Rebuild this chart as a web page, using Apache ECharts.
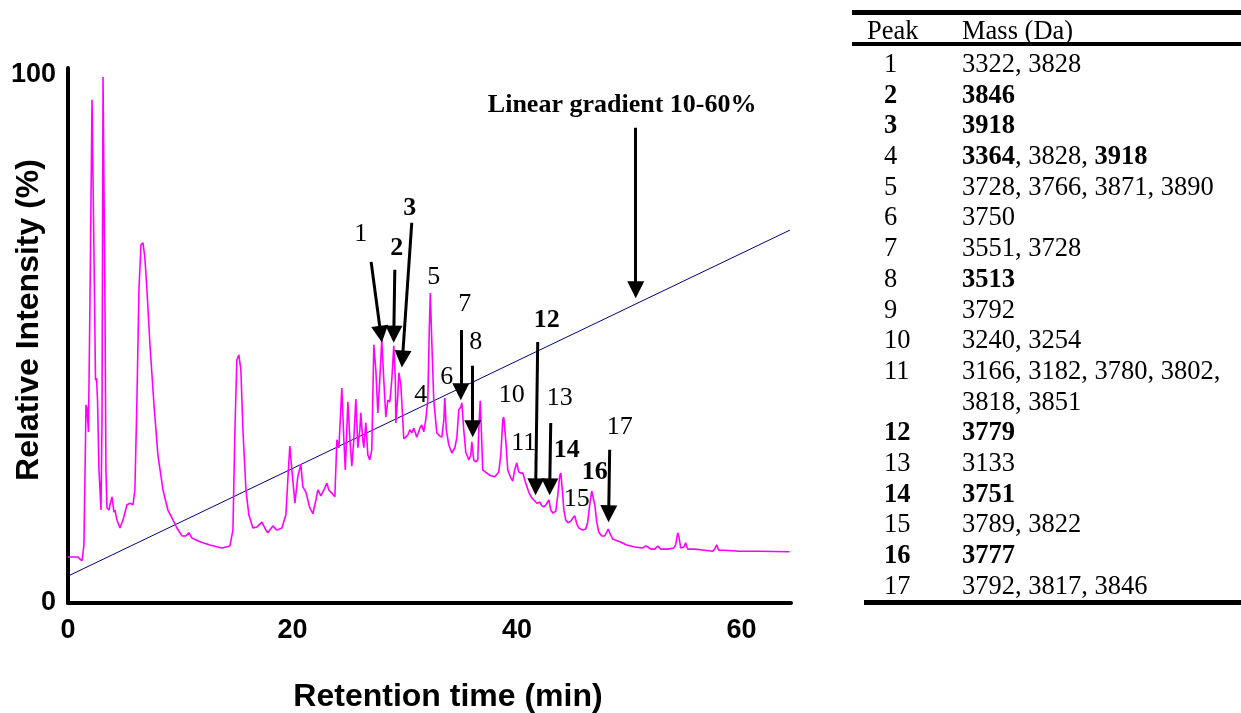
<!DOCTYPE html>
<html>
<head>
<meta charset="utf-8">
<script src="https://cdn.jsdelivr.net/npm/echarts@6/dist/echarts.min.js"></script>
<style>
html, body { margin: 0; padding: 0; background: #fff; }
#chart { width: 1241px; height: 713px; }
</style>
</head>
<body>
<div id="chart"></div>
<script>
// chromatogram trace (min, % relative intensity)
const retentionTime = [
  0.00, 0.89, 1.07, 1.25, 1.42, 1.56, 1.60, 1.69, 1.82, 1.96, 2.14, 2.23, 2.31, 2.45, 2.54, 2.63, 2.76, 2.94,
  3.03, 3.12, 3.21, 3.29, 3.38, 3.47, 3.65, 3.74, 3.92, 4.01, 4.10, 4.18, 4.36, 4.63, 4.90, 5.25, 5.52, 5.79,
  5.96, 6.14, 6.32, 6.50, 6.68, 6.85, 7.03, 7.30, 7.66, 8.01, 8.46, 8.90, 9.26, 9.70, 10.15, 10.50, 10.77, 11.04,
  11.75, 12.64, 13.71, 14.42, 14.69, 14.87, 15.04, 15.22, 15.40, 15.58, 15.85, 16.11, 16.47, 16.83, 17.27, 17.63,
  17.80, 18.25, 18.60, 19.05, 19.41, 19.58, 19.76, 19.94, 20.21, 20.47, 20.74, 20.92, 21.19, 21.54, 21.81, 22.08,
  22.26, 22.52, 22.79, 23.06, 23.23, 23.50, 23.77, 23.95, 24.13, 24.39, 24.57, 24.70, 24.93, 25.11, 25.28, 25.46,
  25.64, 25.82, 26.00, 26.08, 26.26, 26.35, 26.53, 26.71, 26.88, 27.06, 27.24, 27.42, 27.60, 27.77, 27.95, 28.13,
  28.31, 28.49, 28.67, 28.84, 29.02, 29.16, 29.20, 29.38, 29.47, 29.65, 29.73, 29.91, 30.09, 30.27, 30.45, 30.62,
  30.80, 31.07, 31.34, 31.51, 31.69, 31.87, 32.05, 32.18, 32.27, 32.40, 32.58, 32.85, 33.12, 33.30, 33.48, 33.56,
  33.70, 33.92, 34.19, 34.46, 34.64, 34.81, 34.99, 35.08, 35.25, 35.43, 35.70, 35.88, 35.97, 36.14, 36.32, 36.50,
  36.59, 36.72, 36.85, 36.94, 37.30, 37.65, 38.01, 38.37, 38.55, 38.73, 38.81, 38.99, 39.17, 39.44, 39.61, 39.79,
  39.97, 40.15, 40.33, 40.51, 40.77, 41.04, 41.31, 41.58, 41.76, 42.03, 42.21, 42.39, 42.57, 42.83, 43.01, 43.19,
  43.45, 43.63, 43.81, 43.90, 44.03, 44.17, 44.34, 44.52, 44.79, 44.97, 45.14, 45.32, 45.50, 45.86, 46.12, 46.29,
  46.47, 46.65, 46.78, 46.92, 47.10, 47.28, 47.54, 47.81, 47.99, 48.12, 48.25, 48.52, 49.14, 49.77, 50.48, 51.19,
  51.46, 51.64, 51.91, 52.26, 52.53, 52.80, 53.42, 53.95, 54.13, 54.31, 54.44, 54.58, 54.84, 55.02, 55.19, 55.82,
  56.71, 57.42, 57.60, 57.78, 57.96, 58.49, 59.82, 61.60, 64.27
];
const intensity = [
  8.7, 8.7, 8.3, 8.0, 11.0, 30.9, 37.5, 36.9, 32.4, 57.4, 95.3, 95.3, 66.9, 42.2, 42.6, 38.4, 25.2, 17.6,
  34.7, 99.6, 99.6, 57.4, 25.2, 18.0, 17.6, 18.6, 20.1, 18.6, 17.2, 17.6, 15.7, 14.2, 15.7, 18.6, 18.9, 18.6,
  21.4, 38.4, 59.3, 67.8, 68.2, 65.3, 59.3, 48.9, 37.5, 28.0, 21.4, 17.6, 16.1, 14.2, 12.7, 12.7, 13.3, 12.3,
  11.6, 11.0, 10.4, 10.8, 13.8, 32.8, 46.0, 47.0, 44.1, 32.8, 21.4, 16.7, 14.2, 14.4, 15.3, 13.8,
  13.3, 14.6, 13.8, 14.2, 16.7, 23.3, 29.7, 25.2, 18.9, 23.9, 26.3, 22.0, 21.0, 18.0, 16.9, 19.5,
  21.4, 20.3, 21.4, 22.7, 21.4, 20.8, 20.1, 30.9, 29.4, 40.7, 30.9, 25.2, 38.1, 30.9, 25.9, 30.9,
  38.6, 29.4, 32.8, 36.0, 30.9, 29.4, 34.1, 28.0, 27.1, 29.0, 48.9, 44.1, 36.0, 42.2, 49.8, 42.2,
  35.2, 38.4, 38.1, 42.2, 48.7, 42.2, 34.1, 39.4, 43.6, 41.3, 38.1, 31.1, 31.4, 31.8, 32.8, 32.2,
  33.1, 31.4, 33.1, 33.7, 32.4, 34.7, 38.4, 51.7, 58.7, 49.8, 38.4, 32.2, 31.6, 31.4, 34.7, 38.8,
  32.8, 29.9, 28.4, 29.4, 31.4, 36.6, 37.1, 37.9, 32.8, 28.6, 27.1, 28.0, 30.5, 27.1, 26.7, 27.1,
  32.8, 38.3, 30.9, 25.2, 24.6, 24.1, 23.9, 24.8, 28.0, 34.7, 35.2, 30.9, 25.2, 23.7, 23.1, 25.2,
  26.5, 24.8, 24.6, 24.6, 22.7, 21.0, 19.9, 19.3, 18.9, 19.1, 18.4, 18.2, 18.6, 19.5, 17.6, 17.0,
  17.4, 20.5, 24.2, 24.6, 21.4, 17.6, 15.7, 15.2, 15.5, 16.1, 16.5, 15.0, 14.2, 13.8, 14.0, 15.3,
  18.6, 21.2, 21.4, 18.6, 15.3, 13.4, 12.7, 12.7, 13.4, 14.0, 13.3, 12.1, 11.6, 11.0, 10.6, 10.4,
  10.8, 10.6, 10.2, 10.2, 10.8, 10.2, 10.2, 10.4, 11.0, 13.3, 12.3, 10.4, 10.6, 11.4, 10.2, 10.2,
  10.0, 9.8, 10.2, 11.0, 10.0, 10.0, 9.8, 9.8, 9.7
];

// acetonitrile gradient line (drawn on the same % scale)
const gradientTime = [0, 64.3];
const gradientLevel = [5.1, 70.6];

// axis ticks
const xTickStep = 20;
const yTickStep = 100;

// peak numbers written on the trace
const peakLabels = ['1', '2', '3', '4', '5', '6', '7', '8', '10', '11', '12', '13', '14', '15', '16', '17'];
const peakLabelBold = [false, true, true, false, false, false, false, false, false, false, true, false, true, false, true, false];
const peakLabelAt = [
  [26.08, 69.9], [29.29, 67.2], [30.45, 74.8], [31.43, 39.4], [32.58, 61.7], [33.74, 42.8], [35.34, 56.6], [36.32, 49.4],
  [39.53, 39.4], [40.59, 30.3], [42.64, 53.6], [43.8, 38.8], [44.42, 29.0], [45.31, 19.7], [46.92, 24.8], [49.14, 33.3]
];

// arrows (tail -> head)
const arrowFrom = [[27.0, 64.6], [29.11, 63.1], [30.62, 72.0], [34.99, 51.7], [36.05, 44.9], [41.84, 49.4], [43.0, 34.1], [48.25, 29.0], [50.57, 90.0]];
const arrowTo = [[27.86, 50.9], [29.02, 50.9], [29.79, 46.2], [34.99, 40.0], [36.05, 33.0], [41.66, 22.0], [42.91, 22.0], [48.16, 16.9], [50.57, 59.3]];

const gradientNote = 'Linear gradient 10-60%';
const gradientNoteAt = [49.36, 94.3];

// table of masses ('*' = bold)
const tablePeak = ['1', '2', '3', '4', '5', '6', '7', '8', '9', '10', '11', '', '12', '13', '14', '15', '16', '17'];
const tablePeakBold = [false, true, true, false, false, false, false, false, false, false, false, false, true, false, true, false, true, false];
const tableMass = [
  ['3322', '3828'], ['*3846'], ['*3918'], ['*3364', '3828', '*3918'], ['3728', '3766', '3871', '3890'], ['3750'],
  ['3551', '3728'], ['*3513'], ['3792'], ['3240', '3254'], ['3166', '3182', '3780', '3802', ''], ['3818', '3851'],
  ['*3779'], ['3133'], ['*3751'], ['3789', '3822'], ['*3777'], ['3792', '3817', '3846']
];

const SERIF = '"Liberation Serif", "Times New Roman", serif';
const SANS = '"Liberation Sans", Arial, sans-serif';
const TABLE_FS = 26.5;

const chart = echarts.init(document.getElementById('chart'));

const trace = retentionTime.map((t, i) => [t, intensity[i]]);
const gradient = gradientTime.map((t, i) => [t, gradientLevel[i]]);

const labelData = peakLabels.map((txt, i) => ({
  name: txt,
  value: peakLabelAt[i],
  label: { fontWeight: peakLabelBold[i] ? 'bold' : 'normal' }
}));
labelData.push({ name: gradientNote, value: gradientNoteAt, label: { fontWeight: 'bold' } });

// table graphics
const tableGraphic = [];
const rowY = i => 65 + i * 30.7;
const richStyles = {
  n: { fontFamily: SERIF, fontSize: TABLE_FS, fontWeight: 'normal', fill: '#000' },
  b: { fontFamily: SERIF, fontSize: TABLE_FS, fontWeight: 'bold', fill: '#000' }
};
tableGraphic.push(
  { type: 'rect', shape: { x: 852, y: 10, width: 389, height: 5 }, style: { fill: '#000' } },
  { type: 'rect', shape: { x: 852, y: 42, width: 389, height: 4 }, style: { fill: '#000' } },
  { type: 'rect', shape: { x: 864, y: 600, width: 377, height: 5 }, style: { fill: '#000' } },
  { type: 'text', x: 867, y: 32, style: { text: 'Peak', fontFamily: SERIF, fontSize: TABLE_FS, fill: '#000', textAlign: 'left', textVerticalAlign: 'middle' } },
  { type: 'text', x: 962, y: 32, style: { text: 'Mass (Da)', fontFamily: SERIF, fontSize: TABLE_FS, fill: '#000', textAlign: 'left', textVerticalAlign: 'middle' } }
);
tablePeak.forEach((p, i) => {
  if (p) {
    tableGraphic.push({
      type: 'text', x: 884, y: rowY(i),
      style: { text: p, fontFamily: SERIF, fontSize: TABLE_FS, fontWeight: tablePeakBold[i] ? 'bold' : 'normal', fill: '#000', textAlign: 'left', textVerticalAlign: 'middle' }
    });
  }
  const parts = tableMass[i].map((m, j) => {
    if (m === '') return '';
    const bold = m.charAt(0) === '*';
    const txt = bold ? m.slice(1) : m;
    return (j > 0 ? '{n|, }' : '') + '{' + (bold ? 'b' : 'n') + '|' + txt + '}';
  }).join('') + (tableMass[i][tableMass[i].length - 1] === '' ? '{n|,}' : '');
  tableGraphic.push({
    type: 'text', x: 962, y: rowY(i),
    style: { text: parts, rich: richStyles, fontFamily: SERIF, fontSize: TABLE_FS, fill: '#000', textAlign: 'left', textVerticalAlign: 'middle' }
  });
});

const option = {
  animation: false,
  grid: { left: 68, right: 450, top: 68, bottom: 110, containLabel: false },
  xAxis: {
    type: 'value',
    min: 0,
    max: 64.4,
    interval: xTickStep,
    axisLine: { show: true, onZero: false, lineStyle: { color: '#000', width: 4 } },
    axisTick: { show: false },
    splitLine: { show: false },
    axisLabel: { color: '#000', fontFamily: SANS, fontWeight: 'bold', fontSize: 27, margin: 14, showMaxLabel: false }
  },
  yAxis: {
    type: 'value',
    min: 0,
    max: 101.3,
    interval: yTickStep,
    axisLine: { show: true, lineStyle: { color: '#000', width: 4 } },
    axisTick: { show: false },
    splitLine: { show: false },
    axisLabel: { color: '#000', fontFamily: SANS, fontWeight: 'bold', fontSize: 27, margin: 12, showMaxLabel: false }
  },
  graphic: [
    { type: 'text', x: 448, y: 697, style: { text: 'Retention time (min)', fontFamily: SANS, fontWeight: 'bold', fontSize: 32, fill: '#000', textAlign: 'center', textVerticalAlign: 'middle' } },
    { type: 'text', x: 29, y: 320, rotation: Math.PI / 2, style: { text: 'Relative Intensity (%)', fontFamily: SANS, fontWeight: 'bold', fontSize: 32, fill: '#000', textAlign: 'center', textVerticalAlign: 'middle' } }
  ].concat(tableGraphic),
  series: [
    {
      name: 'gradient',
      type: 'line',
      data: gradient,
      showSymbol: false,
      lineStyle: { color: '#000080', width: 1 },
      z: 2
    },
    {
      name: 'trace',
      type: 'line',
      data: trace,
      showSymbol: false,
      lineStyle: { color: '#ff00ff', width: 1.6 },
      z: 3
    },
    {
      name: 'arrows',
      type: 'lines',
      coordinateSystem: 'cartesian2d',
      symbol: ['none', 'triangle'],
      symbolSize: 17,
      lineStyle: { color: '#000', width: 3, opacity: 1, curveness: 0 },
      data: arrowFrom.map((f, i) => ({ coords: [f, arrowTo[i]] })),
      silent: true,
      z: 4
    },
    {
      name: 'labels',
      type: 'scatter',
      data: labelData,
      symbolSize: 1,
      itemStyle: { color: 'rgba(0,0,0,0)', opacity: 1 },
      label: {
        show: true,
        position: 'inside',
        formatter: p => p.name,
        color: '#000',
        opacity: 1,
        textBorderWidth: 0,
        fontFamily: SERIF,
        fontSize: 26
      },
      silent: true,
      z: 5
    }
  ]
};

chart.setOption(option);
</script>
</body>
</html>
